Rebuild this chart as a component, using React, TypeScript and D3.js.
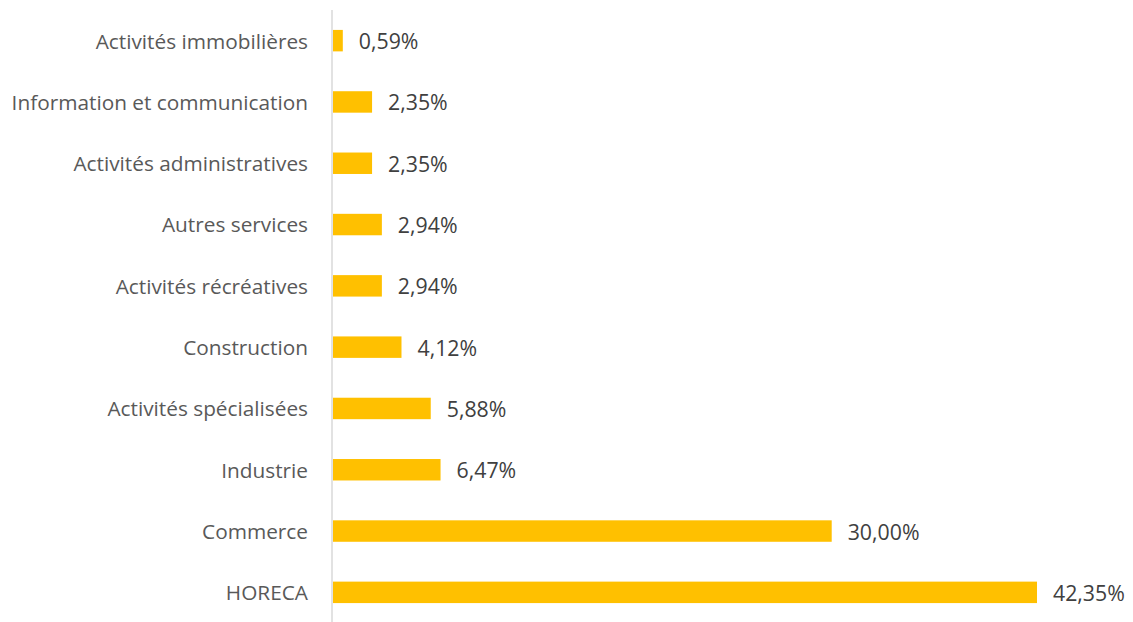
import React from 'react';
import { scaleBand, scaleLinear } from 'd3';

const categories = [
  'Activités immobilières',
  'Information et communication',
  'Activités administratives',
  'Autres services',
  'Activités récréatives',
  'Construction',
  'Activités spécialisées',
  'Industrie',
  'Commerce',
  'HORECA',
];

const values = [0.59, 2.35, 2.35, 2.94, 2.94, 4.12, 5.88, 6.47, 30.0, 42.35];

const width = 1133;
const height = 622;
const axisX = 332;
const font = '"Open Sans", sans-serif';

const App = () => {
  const x = scaleLinear().domain([0, 42.35]).range([axisX + 1, 1037]);
  const y = scaleBand<string>().domain(categories).range([10, 623]).paddingInner(0.65).paddingOuter(0.325);

  const fmt = (v: number) => v.toFixed(2).replace('.', ',') + '%';

  return (
    <svg width={width} height={height} style={{ position: 'absolute', left: 0, top: 0 }}>
      <rect width={width} height={height} fill="#fff" />
      {categories.map((c, i) => {
        const yc = (y(c) as number) + y.bandwidth() / 2;
        return (
          <g key={c}>
            <rect x={x(0)} y={y(c)} width={x(values[i]) - x(0)} height={y.bandwidth()} fill="#FFC000" />
            <text x={axisX - 24} y={yc} dy="0.38em" textAnchor="end" fill="#595959" fontFamily={font} fontSize={20.8}>
              {c}
            </text>
            <text x={x(values[i]) + 16} y={yc} dy="0.4em" fill="#404040" fontFamily={font} fontSize={21.3}>
              {fmt(values[i])}
            </text>
          </g>
        );
      })}
      <line x1={axisX} x2={axisX} y1={10} y2={height} stroke="#D9D9D9" strokeWidth={1.5} />
    </svg>
  );
};

export default App;
